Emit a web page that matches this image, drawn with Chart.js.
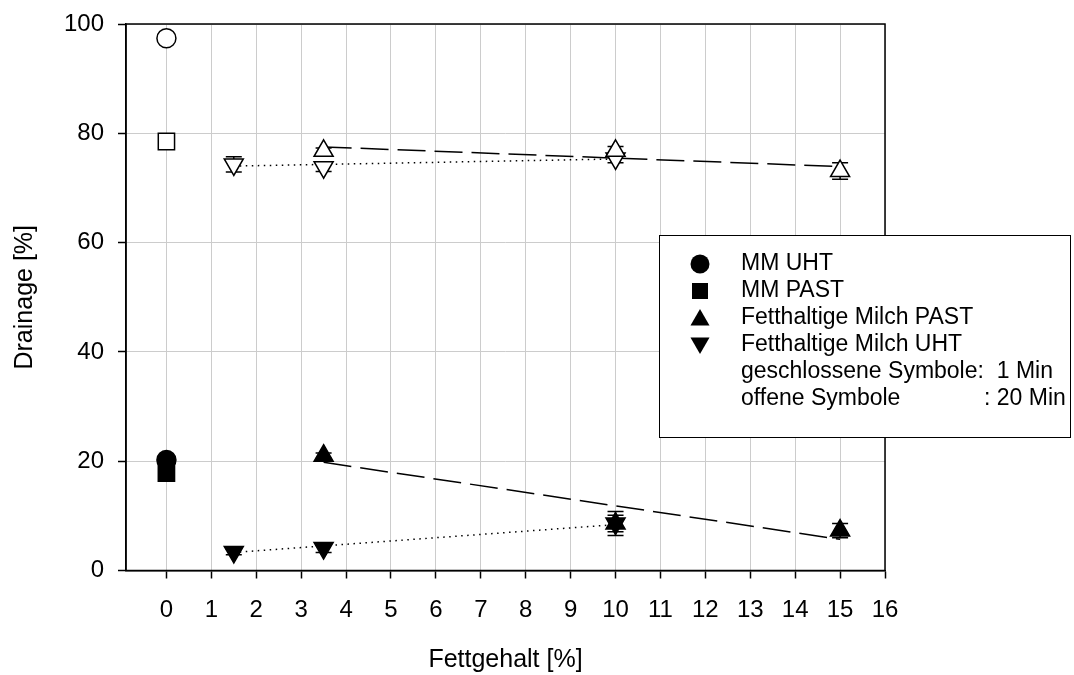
<!DOCTYPE html>
<html>
<head>
<meta charset="utf-8">
<script src="https://cdn.jsdelivr.net/npm/chart.js@4.4.1/dist/chart.umd.min.js"></script>
<style>
  html, body { margin: 0; padding: 0; background: #fff; }
  canvas { display: block; }
</style>
</head>
<body>
<canvas id="chart" width="1074" height="675"></canvas>
<script>
// x positions (fat content %)
const mmX = [0];
const fatPastX = [3.5, 10, 15];
const fatUhtX = [1.5, 3.5, 10];

// closed symbols: 1 Min
const mmUhtClosed = [20.2];
const mmUhtClosedErr = [0.4];
const mmPastClosed = [17.8];
const mmPastClosedErr = [0.6];
const fatPastClosed = [21.0, 8.6, 7.3];
const fatPastClosedErr = [0.5, 1.5, 1.3];
const fatUhtClosed = [3.4, 4.1, 8.6];
const fatUhtClosedErr = [0.5, 0.8, 2.2];

// open symbols: 20 Min
const mmUhtOpen = [97.4];
const mmUhtOpenErr = [0];
const mmPastOpen = [78.5];
const mmPastOpenErr = [0.3];
const fatPastOpen = [76.8, 76.8, 73.1];
const fatPastOpenErr = [0.5, 0.8, 1.5];
const fatUhtOpen = [74.3, 73.8, 75.4];
const fatUhtOpenErr = [1.4, 0.8, 0.8];

// fitted lines (end points)
const fitPastX = [3.5, 15];
const fitPastClosed = [19.8, 5.7];
const fitPastOpen = [77.5, 73.9];
const fitUhtX = [1.5, 10];
const fitUhtClosed = [3.3, 8.4];
const fitUhtOpen = [74.0, 75.3];

const legendLabels = ['MM UHT', 'MM PAST', 'Fetthaltige Milch PAST', 'Fetthaltige Milch UHT'];
const xTickLabels = ['0','1','2','3','4','5','6','7','8','9','10','11','12','13','14','15','16'];

const FONT = '"Liberation Sans", Arial, sans-serif';

function pts(xs, ys) {
    return xs.map((x, i) => ({ x: x, y: ys[i] }));
}

function markerSet(xs, ys, errs, style, open) {
    const isTri = style === 'triangle' || style === 'down';
    return {
        type: 'scatter',
        data: pts(xs, ys),
        err: errs,
        pointStyle: isTri ? 'triangle' : style,
        rotation: style === 'down' ? 180 : 0,
        pointRadius: style === 'circle' ? 9.5 : (style === 'rect' ? 11.5 : 11),
        backgroundColor: open ? '#fff' : '#000',
        borderColor: '#000',
        borderWidth: 1.5,
        order: 1
    };
}

function fitLine(xs, ys, dash) {
    return {
        type: 'line',
        data: pts(xs, ys),
        borderColor: '#000',
        borderWidth: 1.5,
        borderDash: dash,
        pointRadius: 0,
        fill: false,
        order: 10
    };
}

const errorBars = {
    id: 'errorBars',
    beforeDatasetsDraw(chart) {
        const ctx = chart.ctx;
        const ys = chart.scales.y;
        ctx.save();
        ctx.strokeStyle = '#000';
        ctx.lineWidth = 1.5;
        chart.data.datasets.forEach((ds, di) => {
            if (!ds.err) return;
            const meta = chart.getDatasetMeta(di);
            meta.data.forEach((el, i) => {
                const e = ds.err[i];
                if (!e) return;
                const v = ds.data[i].y;
                const top = ys.getPixelForValue(v + e);
                const bot = ys.getPixelForValue(v - e);
                ctx.beginPath();
                ctx.moveTo(el.x, top); ctx.lineTo(el.x, bot);
                ctx.moveTo(el.x - 8, top); ctx.lineTo(el.x + 8, top);
                ctx.moveTo(el.x - 8, bot); ctx.lineTo(el.x + 8, bot);
                ctx.stroke();
            });
        });
        ctx.restore();
    },
    afterDatasetsDraw(chart) {
        const a = chart.chartArea;
        const ctx = chart.ctx;
        ctx.save();
        ctx.strokeStyle = '#000';
        ctx.lineWidth = 1.5;
        ctx.strokeRect(a.left, a.top, a.right - a.left, a.bottom - a.top);
        ctx.restore();
    }
};

function drawMarker(ctx, style, x, y, r) {
    ctx.beginPath();
    if (style === 'circle') {
        ctx.arc(x, y, r, 0, Math.PI * 2);
    } else if (style === 'rect') {
        ctx.rect(x - r, y - r, 2 * r, 2 * r);
    } else if (style === 'triangle') {
        ctx.moveTo(x, y - r);
        ctx.lineTo(x + r * 0.866, y + r / 2);
        ctx.lineTo(x - r * 0.866, y + r / 2);
        ctx.closePath();
    } else {
        ctx.moveTo(x, y + r);
        ctx.lineTo(x + r * 0.866, y - r / 2);
        ctx.lineTo(x - r * 0.866, y - r / 2);
        ctx.closePath();
    }
    ctx.fill();
}

const legendBox = {
    id: 'legendBox',
    afterDraw(chart) {
        const ctx = chart.ctx;
        ctx.save();
        ctx.fillStyle = '#fff';
        ctx.fillRect(659, 235, 412, 202);
        ctx.strokeStyle = '#000';
        ctx.lineWidth = 1;
        ctx.strokeRect(659.5, 235.5, 411, 202);
        const styles = ['circle', 'rect', 'triangle', 'down'];
        const sizes = [9.5, 8, 11, 11];
        const rows = [264, 291, 318, 345];
        ctx.fillStyle = '#000';
        ctx.font = '23px ' + FONT;
        ctx.textBaseline = 'middle';
        ctx.textAlign = 'left';
        legendLabels.forEach((lab, i) => {
            drawMarker(ctx, styles[i], 700, rows[i] + (styles[i] === 'triangle' ? 2 : styles[i] === 'down' ? -2 : 0), sizes[i]);
            ctx.fillText(lab, 741, rows[i]);
        });
        ctx.fillText('geschlossene Symbole:  1 Min', 741, 372);
        ctx.fillText('offene Symbole', 741, 399);
        ctx.fillText(': 20 Min', 984, 399);
        ctx.restore();
    }
};

new Chart(document.getElementById('chart'), {
    type: 'scatter',
    data: {
        datasets: [
            fitLine(fitPastX, fitPastClosed, [28, 9]),
            fitLine(fitPastX, fitPastOpen, [28, 9]),
            fitLine(fitUhtX, fitUhtClosed, [1.5, 4.5]),
            fitLine(fitUhtX, fitUhtOpen, [1.5, 4.5]),
            markerSet(mmX, mmUhtClosed, mmUhtClosedErr, 'circle', false),
            markerSet(mmX, mmPastClosed, mmPastClosedErr, 'rect', false),
            markerSet(fatPastX, fatPastClosed, fatPastClosedErr, 'triangle', false),
            markerSet(fatUhtX, fatUhtClosed, fatUhtClosedErr, 'down', false),
            markerSet(mmX, mmUhtOpen, mmUhtOpenErr, 'circle', true),
            markerSet(mmX, mmPastOpen, mmPastOpenErr, 'rect', true),
            markerSet(fatPastX, fatPastOpen, fatPastOpenErr, 'triangle', true),
            markerSet(fatUhtX, fatUhtOpen, fatUhtOpenErr, 'down', true)
        ]
    },
    options: {
        responsive: false,
        animation: false,
        devicePixelRatio: 1,
        layout: { padding: { top: 24, right: 189, left: 0, bottom: 0 } },
        plugins: {
            legend: { display: false },
            tooltip: { enabled: false }
        },
        scales: {
            x: {
                type: 'linear',
                min: -0.9,
                max: 16,
                afterFit: s => { s.height = 104.5; },
                ticks: {
                    stepSize: 1,
                    includeBounds: false,
                    autoSkip: false,
                    maxRotation: 0,
                    padding: 17,
                    color: '#000',
                    font: { family: FONT, size: 24 },
                    callback: v => xTickLabels[v] !== undefined ? xTickLabels[v] : ''
                },
                grid: { color: '#cccccc', lineWidth: 1, tickColor: '#000', tickLength: 8, tickWidth: 1.5 },
                border: { color: '#000', width: 1.5 },
                title: {
                    display: true,
                    text: 'Fettgehalt [%]',
                    color: '#000',
                    font: { family: FONT, size: 25 },
                    padding: { top: 0, bottom: 0 }
                }
            },
            y: {
                min: 0,
                max: 100,
                afterFit: s => { s.width = 126; },
                ticks: {
                    stepSize: 20,
                    padding: 14,
                    color: '#000',
                    font: { family: FONT, size: 24, lineHeight: 0.5 }
                },
                grid: { color: '#cccccc', lineWidth: 1, tickColor: '#000', tickLength: 8, tickWidth: 1.5 },
                border: { color: '#000', width: 1.5 },
                title: {
                    display: true,
                    text: 'Drainage [%]',
                    color: '#000',
                    font: { family: FONT, size: 25 },
                    padding: { top: 10, bottom: 0 }
                }
            }
        }
    },
    plugins: [errorBars, legendBox]
});
</script>
</body>
</html>
